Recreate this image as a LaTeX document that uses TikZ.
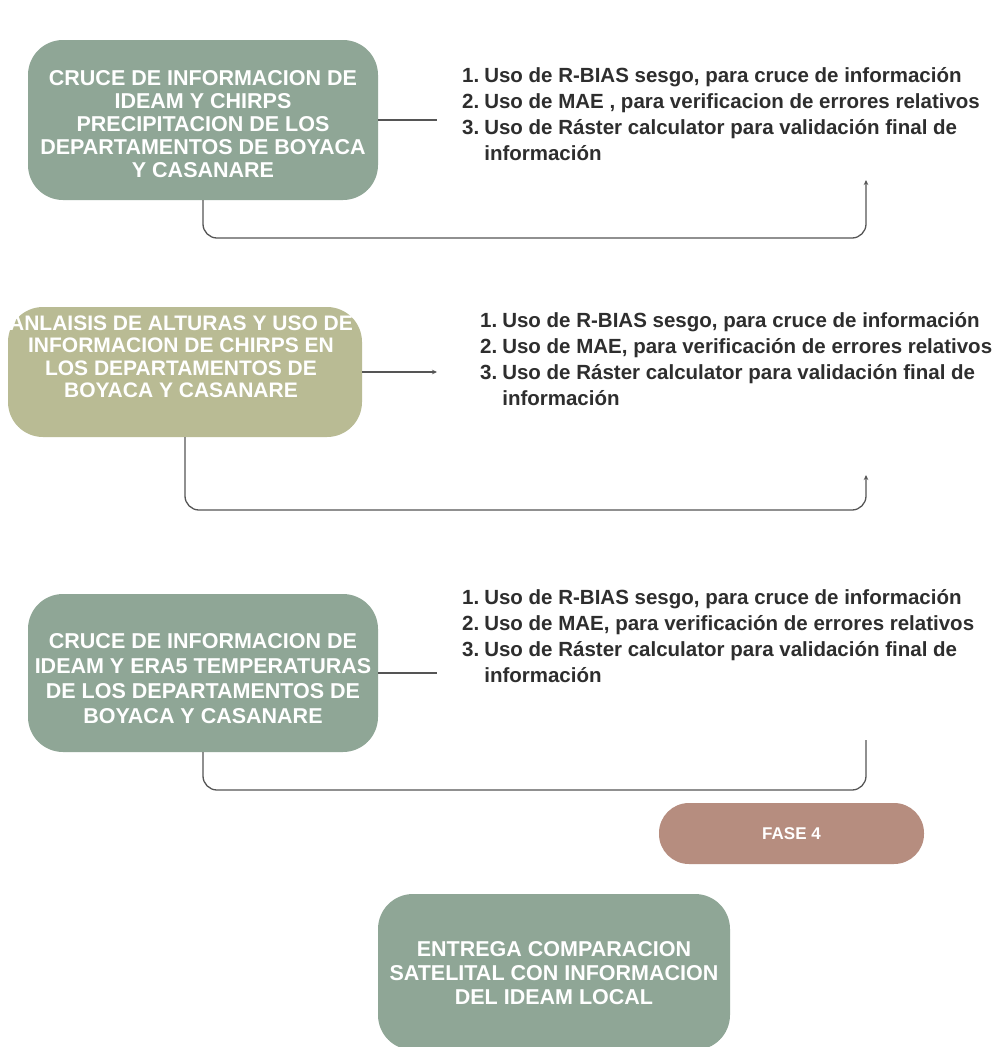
\documentclass[tikz,border=0pt]{standalone}
\usepackage{fontspec}
\setmainfont{Liberation Sans}
\usepackage{tikz}
\usetikzlibrary{arrows.meta}
\definecolor{salvia}{HTML}{8FA696}
\definecolor{oliva}{HTML}{B9BB94}
\definecolor{arcilla}{HTML}{B68D7F}
\definecolor{tinta}{HTML}{2E2E2E}
\definecolor{trazo}{HTML}{555555}
\tikzstyle{caja} = [rectangle, rounded corners=35pt, minimum width=350pt, minimum height=160pt, inner sep=0pt]
\tikzstyle{rotulo} = [text=white, align=center, inner sep=0pt, font=\fontsize{21.5}{23}\selectfont\bfseries]
\tikzstyle{lista} = [anchor=base west, inner sep=0pt, text=tinta, font=\fontsize{20.5}{26}\selectfont\bfseries]
\tikzstyle{conector} = [draw=trazo, line width=1.3pt, rounded corners=14pt]
\tikzstyle{punta} = [-{Stealth[length=5pt,width=4.5pt]}]

\begin{document}
\begin{tikzpicture}[x=1pt,y=-1pt]
	\clip (0,0) rectangle (999,1047);
	\fill[white] (0,0) rectangle (999,1047);

	% primer bloque
	\node[caja, fill=salvia] (b1) at (203,120) {};
	\node[rotulo] (t1) at ([yshift=-4pt]b1.center) {CRUCE DE INFORMACION DE\\IDEAM Y CHIRPS\\PRECIPITACION DE LOS\\DEPARTAMENTOS DE BOYACA\\Y CASANARE};
	\node[lista] (l1) at (462,82) {\begin{tabular}[t]{@{}l@{\hspace{5pt}}l@{}}
		1.&Uso de R-BIAS sesgo, para cruce de información\\
		2.&Uso de MAE , para verificacion de errores relativos\\
		3.&Uso de Ráster calculator para validación final de\\
		&información
	\end{tabular}};
	\coordinate (e1) at (437,120);
	\coordinate (v1) at (866,238);
	\coordinate (r1) at (866,180);
	\draw[conector] (b1.east) -- (e1);
	\draw[conector, punta] (b1.south) |- (v1) -- (r1);

	% segundo bloque
	\node[caja, fill=oliva, minimum width=354pt, minimum height=130pt] (b2) at (185,372) {};
	\node[rotulo, font=\fontsize{21}{22.5}\selectfont\bfseries] (t2) at ([xshift=-4pt,yshift=15pt]b2.center) {ANLAISIS DE ALTURAS Y USO DE\\INFORMACION DE CHIRPS EN\\LOS DEPARTAMENTOS DE\\BOYACA Y CASANARE};
	\node[lista] (l2) at (480,327) {\begin{tabular}[t]{@{}l@{\hspace{5pt}}l@{}}
		1.&Uso de R-BIAS sesgo, para cruce de información\\
		2.&Uso de MAE, para verificación de errores relativos\\
		3.&Uso de Ráster calculator para validación final de\\
		&información
	\end{tabular}};
	\coordinate (e2) at (437,372);
	\coordinate (v2) at (866,510);
	\coordinate (r2) at (866,475);
	\draw[conector, punta] (b2.east) -- (e2);
	\draw[conector, punta] (b2.south) |- (v2) -- (r2);

	% tercer bloque
	\node[caja, fill=salvia, minimum height=158pt] (b3) at (203,673) {};
	\node[rotulo, font=\fontsize{21.5}{25}\selectfont\bfseries] (t3) at ([yshift=-6pt]b3.center) {CRUCE DE INFORMACION DE\\IDEAM Y ERA5 TEMPERATURAS\\DE LOS DEPARTAMENTOS DE\\BOYACA Y CASANARE};
	\node[lista] (l3) at (462,604) {\begin{tabular}[t]{@{}l@{\hspace{5pt}}l@{}}
		1.&Uso de R-BIAS sesgo, para cruce de información\\
		2.&Uso de MAE, para verificación de errores relativos\\
		3.&Uso de Ráster calculator para validación final de\\
		&información
	\end{tabular}};
	\coordinate (e3) at (437,673);
	\coordinate (v3) at (866,790);
	\coordinate (r3) at (866,740);
	\draw[conector] (b3.east) -- (e3);
	\draw[conector] (b3.south) |- (v3) -- (r3);

	% fase y entrega
	\node[caja, fill=arcilla, rounded corners=30pt, minimum width=265pt, minimum height=61pt, text=white, font=\fontsize{17}{18}\selectfont\bfseries] (f4) at (791.5,833.5) {FASE 4};
	\node[caja, fill=salvia, minimum width=352pt, minimum height=156pt] (b4) at (554,972) {};
	\node[rotulo, font=\fontsize{21.5}{24}\selectfont\bfseries] (t4) at ([yshift=-1pt]b4.center) {ENTREGA COMPARACION\\SATELITAL CON INFORMACION\\DEL IDEAM LOCAL};
\end{tikzpicture}
\end{document}
